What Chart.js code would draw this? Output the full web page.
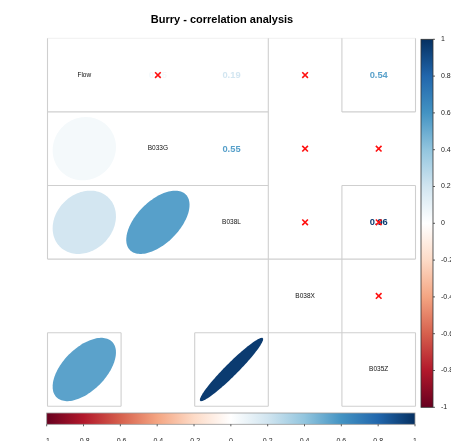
<!DOCTYPE html>
<html>
<head>
<meta charset="utf-8">
<script src="https://cdn.jsdelivr.net/npm/chart.js@4/dist/chart.umd.min.js"></script>
<style>
  html, body { margin: 0; padding: 0; background: #ffffff; }
  #wrap { width: 451px; height: 441px; }
</style>
</head>
<body>
<div id="wrap"><canvas id="corr" width="451" height="441"></canvas></div>
<script>
// Variables on the diagonal of the matrix
const variables = ['Flow', 'B033G', 'B038L', 'B038X', 'B035Z'];

// Upper-triangle pairs (row index < column index)
const pairRow  = [0, 0, 0, 0, 1, 1, 1, 2, 2, 3];
const pairCol  = [1, 2, 3, 4, 2, 3, 4, 3, 4, 4];
// Pearson correlation of each pair (null = not available)
const pairCorr = [0.05, 0.19, null, 0.54, 0.55, null, null, null, 0.96, null];
// Pairs flagged as not significant: crossed out in the upper panel
const pairInsig = [true, false, true, false, false, true, true, true, true, true];
// Pairs shown as ellipses in the lower panel
const pairEllipse = [true, true, false, true, true, false, false, false, true, false];

// Colour legend ticks
const legendTicks = [-1, -0.8, -0.6, -0.4, -0.2, 0, 0.2, 0.4, 0.6, 0.8, 1];

// Diverging red-blue palette from -1 to 1
const RdBu = ['#67001F', '#B2182B', '#D6604D', '#F4A582', '#FDDBC7', '#FFFFFF',
              '#D1E5F0', '#92C5DE', '#4393C3', '#2166AC', '#053061'];

function hexToRgb(h) {
  return [parseInt(h.slice(1, 3), 16), parseInt(h.slice(3, 5), 16), parseInt(h.slice(5, 7), 16)];
}
function corrColor(r) {
  const t = (Math.max(-1, Math.min(1, r)) + 1) / 2 * (RdBu.length - 1);
  const i = Math.min(RdBu.length - 2, Math.floor(t));
  const f = t - i;
  const a = hexToRgb(RdBu[i]), b = hexToRgb(RdBu[i + 1]);
  const c = a.map((v, k) => Math.round(v + (b[k] - v) * f));
  return 'rgb(' + c.join(',') + ')';
}

// Cell frames, in cell units: [x1, y1, x2, y2]
const frameLines = [
  [0, 1, 3, 1], [4, 1, 5, 1],
  [0, 2, 3, 2], [4, 2, 5, 2],
  [0, 3, 5, 3],
  [0, 4, 1, 4], [2, 4, 5, 4],
  [0, 5, 1, 5], [2, 5, 3, 5], [4, 5, 5, 5],
  [0, 0, 0, 3], [0, 4, 0, 5],
  [1, 4, 1, 5], [2, 4, 2, 5],
  [3, 0, 3, 5],
  [4, 0, 4, 1], [4, 2, 4, 5],
  [5, 0, 5, 1], [5, 2, 5, 3], [5, 4, 5, 5]
];

// Points for the datasets
const crossPoints = [];
const ellipsePoints = [];
const numberPoints = [];
pairRow.forEach((r, i) => {
  const c = pairCol[i];
  if (pairCorr[i] !== null) numberPoints.push({ x: c + 0.5, y: r + 0.5, r: pairCorr[i] });
  if (pairInsig[i]) crossPoints.push({ x: c + 0.5, y: r + 0.5 });
  if (pairEllipse[i] && pairCorr[i] !== null) ellipsePoints.push({ x: r + 0.5, y: c + 0.5, r: pairCorr[i] });
});
const diagPoints = variables.map((v, i) => ({ x: i + 0.5, y: i + 0.5, name: v }));

const FONT = '"Liberation Sans", Arial, sans-serif';

const corrPlugin = {
  id: 'corrMatrix',
  beforeDatasetsDraw(chart) {
    const ctx = chart.ctx;
    const xs = chart.scales.x, ys = chart.scales.y;
    const cw = xs.getPixelForValue(1) - xs.getPixelForValue(0);
    const ch = ys.getPixelForValue(1) - ys.getPixelForValue(0);
    ctx.save();

    // faint top edge
    ctx.strokeStyle = '#f0f0f0';
    ctx.lineWidth = 1;
    ctx.beginPath();
    ctx.moveTo(xs.getPixelForValue(0), ys.getPixelForValue(0));
    ctx.lineTo(xs.getPixelForValue(5), ys.getPixelForValue(0));
    ctx.stroke();

    // cell frames
    ctx.strokeStyle = '#cfcfcf';
    ctx.lineWidth = 1.1;
    frameLines.forEach(s => {
      ctx.beginPath();
      ctx.moveTo(xs.getPixelForValue(s[0]), ys.getPixelForValue(s[1]));
      ctx.lineTo(xs.getPixelForValue(s[2]), ys.getPixelForValue(s[3]));
      ctx.stroke();
    });

    // ellipses (lower panel)
    const emeta = chart.getDatasetMeta(1);
    emeta.data.forEach((el, i) => {
      const rho = chart.data.datasets[1].data[i].r;
      const h = Math.acos(rho) / 2;
      const sx = 0.86 * cw, sy = 0.86 * ch;
      ctx.beginPath();
      for (let k = 0; k <= 120; k++) {
        const a = k / 120 * Math.PI * 2;
        const px = el.x + Math.cos(a + h) / 2 * sx;
        const py = el.y - Math.cos(a - h) / 2 * sy;
        if (k === 0) ctx.moveTo(px, py); else ctx.lineTo(px, py);
      }
      ctx.closePath();
      ctx.fillStyle = corrColor(rho);
      ctx.fill();
    });

    // correlation values (upper panel)
    const nmeta = chart.getDatasetMeta(2);
    ctx.font = 'bold 9.3px ' + FONT;
    ctx.textAlign = 'center';
    ctx.textBaseline = 'middle';
    nmeta.data.forEach((el, i) => {
      const rho = chart.data.datasets[2].data[i].r;
      ctx.fillStyle = corrColor(rho);
      ctx.fillText(rho.toFixed(2), el.x, el.y + 0.5);
    });

    // variable names on the diagonal
    const dmeta = chart.getDatasetMeta(3);
    ctx.font = '6.5px ' + FONT;
    ctx.fillStyle = '#111111';
    dmeta.data.forEach((el, i) => {
      ctx.fillText(chart.data.datasets[3].data[i].name, el.x, el.y);
    });
    ctx.restore();
  },
  afterDraw(chart) {
    const ctx = chart.ctx;
    const area = chart.chartArea;
    ctx.save();

    // title
    ctx.font = 'bold 11px ' + FONT;
    ctx.fillStyle = '#000000';
    ctx.textAlign = 'center';
    ctx.textBaseline = 'alphabetic';
    ctx.fillText('Burry - correlation analysis', chart.width / 2 - 3.5, 23);

    // vertical colour legend
    const vx = area.right + 5.5, vw = 12;
    const vt = area.top + 1, vb = area.bottom + 1;
    let g = ctx.createLinearGradient(0, vb, 0, vt);
    RdBu.forEach((c, i) => g.addColorStop(i / (RdBu.length - 1), c));
    ctx.fillStyle = g;
    ctx.fillRect(vx, vt, vw, vb - vt);
    ctx.strokeStyle = '#333333';
    ctx.lineWidth = 0.8;
    ctx.strokeRect(vx, vt, vw, vb - vt);
    ctx.font = '7px ' + FONT;
    ctx.fillStyle = '#222222';
    ctx.textAlign = 'left';
    ctx.textBaseline = 'middle';
    legendTicks.forEach(v => {
      const y = vb - (v + 1) / 2 * (vb - vt);
      ctx.beginPath();
      ctx.moveTo(vx + vw, y);
      ctx.lineTo(vx + vw + 2, y);
      ctx.stroke();
      ctx.fillText(String(v), vx + vw + 8, y);
    });

    // horizontal colour legend
    const hl = area.left - 0.8, hr = area.right - 0.5;
    const ht = area.bottom + 6.7, hh = 11.3;
    g = ctx.createLinearGradient(hl, 0, hr, 0);
    RdBu.forEach((c, i) => g.addColorStop(i / (RdBu.length - 1), c));
    ctx.fillStyle = g;
    ctx.fillRect(hl, ht, hr - hl, hh);
    ctx.strokeStyle = '#999999';
    ctx.lineWidth = 0.8;
    ctx.strokeRect(hl, ht, hr - hl, hh);
    ctx.strokeStyle = '#333333';
    ctx.fillStyle = '#222222';
    ctx.textAlign = 'center';
    ctx.textBaseline = 'top';
    legendTicks.forEach(v => {
      const x = hl + (v + 1) / 2 * (hr - hl);
      ctx.beginPath();
      ctx.moveTo(x, ht + hh);
      ctx.lineTo(x, ht + hh + 2);
      ctx.stroke();
      ctx.fillText(String(v), x, ht + hh + 13);
    });
    ctx.restore();
  }
};

new Chart(document.getElementById('corr'), {
  type: 'scatter',
  data: {
    datasets: [
      {
        label: 'not significant',
        data: crossPoints,
        pointStyle: 'crossRot',
        pointRadius: 4,
        pointHoverRadius: 4,
        borderColor: '#ff1010',
        borderWidth: 1.6
      },
      { label: 'ellipses', data: ellipsePoints, pointRadius: 0, pointHoverRadius: 0 },
      { label: 'values', data: numberPoints, pointRadius: 0, pointHoverRadius: 0 },
      { label: 'names', data: diagPoints, pointRadius: 0, pointHoverRadius: 0 }
    ]
  },
  options: {
    responsive: false,
    animation: false,
    events: [],
    layout: { padding: { left: 47.5, right: 35.5, top: 38.3, bottom: 34.7 } },
    scales: {
      x: { type: 'linear', min: 0, max: 5, display: false },
      y: { type: 'linear', min: 0, max: 5, reverse: true, display: false }
    },
    plugins: {
      legend: { display: false },
      tooltip: { enabled: false },
      title: { display: false }
    }
  },
  plugins: [corrPlugin]
});
</script>
</body>
</html>
